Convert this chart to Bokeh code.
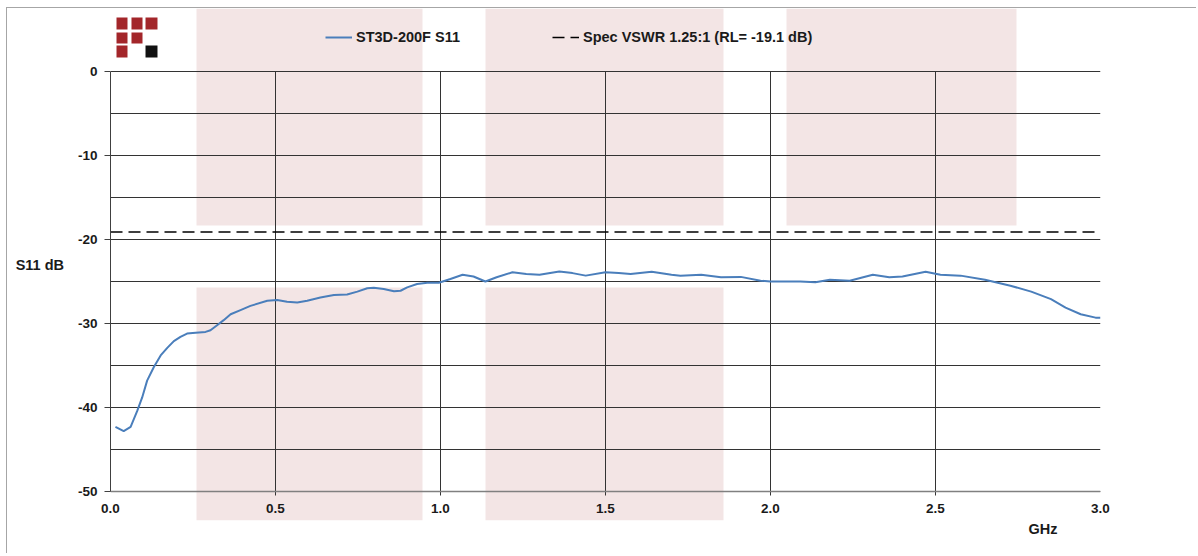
from bokeh.plotting import figure
from bokeh.models import (Range1d, SingleIntervalTicker, Legend, LegendItem,
                          BoxAnnotation, Title, Span)
from bokeh.embed import file_html
from bokeh.resources import INLINE

# ---------------- data ----------------
freq_ghz = [0.015, 0.040, 0.061, 0.081, 0.096, 0.111, 0.131, 0.152, 0.172, 0.192,
            0.212, 0.232, 0.258, 0.288, 0.303, 0.323, 0.343, 0.364, 0.394, 0.424,
            0.475, 0.505, 0.535, 0.566, 0.596, 0.636, 0.677, 0.717, 0.748, 0.778,
            0.798, 0.828, 0.859, 0.879, 0.899, 0.929, 0.960, 0.995, 1.030, 1.067,
            1.100, 1.136, 1.170, 1.218, 1.260, 1.300, 1.360, 1.400, 1.440, 1.500,
            1.540, 1.576, 1.640, 1.700, 1.727, 1.790, 1.850, 1.910, 1.970, 2.000,
            2.060, 2.090, 2.136, 2.180, 2.240, 2.310, 2.360, 2.400, 2.470, 2.515,
            2.576, 2.650, 2.727, 2.790, 2.850, 2.894, 2.940, 2.985, 3.000]
s11_db = [-42.3, -42.8, -42.3, -40.4, -38.8, -36.8, -35.2, -33.8, -32.9, -32.1,
          -31.6, -31.2, -31.1, -31.0, -30.8, -30.2, -29.6, -28.9, -28.4, -27.9,
          -27.3, -27.2, -27.4, -27.5, -27.3, -26.9, -26.6, -26.55, -26.2, -25.8,
          -25.75, -25.9, -26.15, -26.1, -25.7, -25.3, -25.15, -25.15, -24.7, -24.2,
          -24.4, -25.0, -24.5, -23.9, -24.1, -24.2, -23.8, -24.0, -24.3, -23.9,
          -24.0, -24.1, -23.85, -24.2, -24.3, -24.2, -24.5, -24.45, -24.9, -25.0,
          -25.0, -25.0, -25.1, -24.8, -24.9, -24.2, -24.5, -24.4, -23.85, -24.2,
          -24.3, -24.8, -25.5, -26.2, -27.1, -28.1, -28.9, -29.3, -29.3]
spec_x = [0.0, 3.0]
spec_db = [-19.1, -19.1]
x_ticks = [0.0, 0.5, 1.0, 1.5, 2.0, 2.5, 3.0]
y_ticks = [0, -10, -20, -30, -40, -50]
y_min, y_max = -50, 0
series_label = "ST3D-200F S11"
spec_label = "Spec VSWR 1.25:1 (RL= -19.1 dB)"

FONT = "Liberation Sans"
TXT = "#1a1a1a"

# frame covers the whole chart area (data -50..0 plus the header/footer strips)
p = figure(width=1190, height=546, x_range=Range1d(0, 3),
           y_range=Range1d(-53.45, 7.5),
           output_backend="svg", toolbar_location=None,
           min_border_left=103, min_border_right=97, min_border_top=0,
           min_border_bottom=34)
p.outline_line_color = None
p.background_fill_color = None
p.border_fill_color = "white"
p.styles = {"margin-left": "6px", "margin-top": "7px",
            "border-left": "1px solid #a6a6a6", "border-top": "1px solid #a6a6a6"}

# ---------------- decoration: watermark blocks ----------------
pink = "#F3E5E5"
cols = [(0.2606, 0.9455), (1.1364, 1.8576), (2.0485, 2.7455)]
for (l, r) in cols:
    p.add_layout(BoxAnnotation(left=l, right=r, bottom=-18.33,
                               fill_color=pink, fill_alpha=1, line_color=None,
                               level="image"))
for (l, r) in cols[:2]:
    p.add_layout(BoxAnnotation(left=l, right=r, top=-25.71,
                               fill_color=pink, fill_alpha=1, line_color=None,
                               level="image"))

# ---------------- decoration: logo ----------------
lx = [(0.0182, 0.0515), (0.0636, 0.0970), (0.1061, 0.1424)]
ly = [(6.43, 5.0), (4.64, 3.33), (3.10, 1.67)]
logo = [[1, 1, 1], [1, 1, 0], [1, 0, 2]]
for ri, row in enumerate(logo):
    for ci, v in enumerate(row):
        if v == 0:
            continue
        col = "#A3262A" if v == 1 else "#111111"
        p.add_layout(BoxAnnotation(left=lx[ci][0], right=lx[ci][1],
                                   top=ly[ri][0], bottom=ly[ri][1],
                                   fill_color=col, fill_alpha=1,
                                   line_color=None, level="overlay"))

# ---------------- glyphs ----------------
r_spec = p.line(spec_x, spec_db, line_color="black", line_width=1.6,
                line_dash="12 6")
r_s11 = p.line(freq_ghz, s11_db, line_color="#4A7EBB", line_width=2)

# ---------------- axes & grid ----------------
p.xaxis.ticker = x_ticks
p.xaxis.major_label_overrides = {t: f"{t:.1f}" for t in x_ticks}
p.yaxis.ticker = y_ticks
p.yaxis.major_label_overrides = {t: str(t) for t in y_ticks}
p.yaxis.bounds = (y_min, y_max)
p.xaxis.minor_tick_line_color = None
p.yaxis.minor_tick_line_color = None
for ax in (p.xaxis, p.yaxis):
    ax.major_label_text_font = FONT
    ax.major_label_text_font_style = "bold"
    ax.major_label_text_font_size = "13.5px"
    ax.major_label_text_color = TXT
    ax.major_tick_in = 0
    ax.major_tick_line_color = "#404040"
# x axis sits at the bottom of the footer strip; its labels are pulled up under y=-50
p.xaxis.axis_line_color = None
p.xaxis.major_tick_line_color = None
p.xaxis.major_tick_out = 0
p.xaxis.major_label_standoff = -17
p.yaxis.major_tick_out = 6
p.yaxis.axis_line_color = "#404040"
p.yaxis.major_label_standoff = 7

p.yaxis.axis_label = "S11 dB"
p.yaxis.axis_label_orientation = "horizontal"
p.yaxis.axis_label_text_font = FONT
p.yaxis.axis_label_text_font_style = "bold"
p.yaxis.axis_label_text_font_size = "14.5px"
p.yaxis.axis_label_text_color = TXT
p.yaxis.axis_label_standoff = 11

p.ygrid.ticker = SingleIntervalTicker(interval=5)
p.ygrid.bounds = (y_min - 0.01, y_max + 0.01)
p.xgrid.ticker = x_ticks
p.xgrid.bounds = (-0.001, 3.001)
p.xgrid.cross_bounds = (y_min - 0.48, y_max)
for g in (p.xgrid, p.ygrid):
    g.grid_line_color = "#333333"
    g.grid_line_width = 1

# visible x-axis baseline at y = -50
p.add_layout(Span(location=y_min, dimension="width", line_color="#808080",
                  line_width=1.6, level="underlay"))

gtitle = Title(text="GHz", align="right", offset=43, text_font=FONT,
               text_font_style="bold", text_font_size="14.5px", text_color=TXT,
               standoff=0, vertical_align="top")
p.add_layout(gtitle, "below")

# ---------------- legend ----------------
legend = Legend(items=[LegendItem(label=series_label, renderers=[r_s11]),
                       LegendItem(label=spec_label, renderers=[r_spec])],
                orientation="horizontal", location=(215, 475), spacing=92,
                glyph_width=27, glyph_height=16, label_standoff=4, padding=0,
                margin=0, border_line_color=None, background_fill_alpha=0,
                label_text_font=FONT, label_text_font_style="bold",
                label_text_font_size="14.5px", label_text_color=TXT)
p.add_layout(legend)

open("out.html", "w").write(file_html(p, INLINE))
